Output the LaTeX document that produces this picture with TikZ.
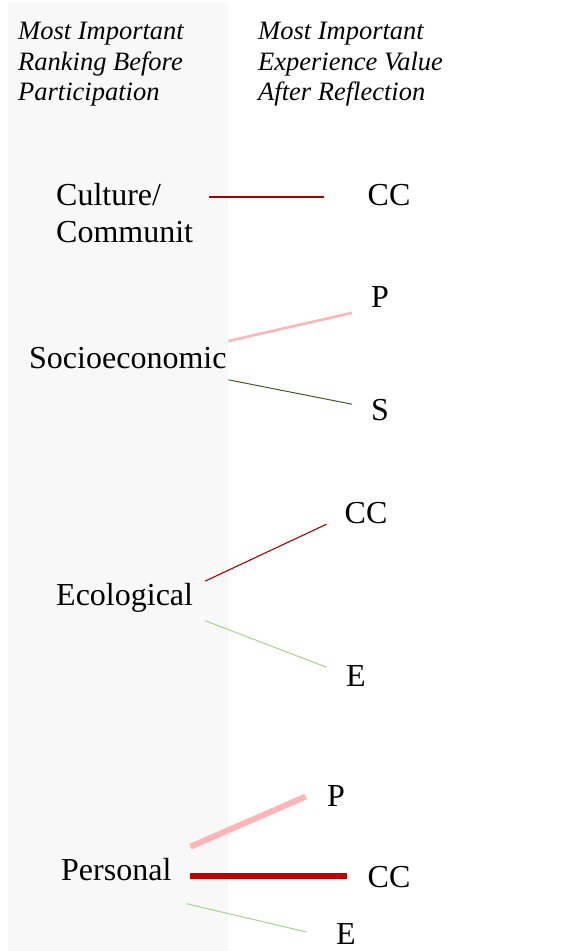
\documentclass[tikz,border=0pt]{standalone}
\usepackage{fontspec}
\setmainfont{Liberation Serif}
\begin{document}
\begin{tikzpicture}[x=1pt,y=-1pt,
  hdr/.style={font=\fontsize{26.5}{30.5}\selectfont\itshape, align=left, inner sep=0pt, anchor=north west},
  lbl/.style={font=\fontsize{32}{37}\selectfont, inner sep=0pt}
]
\definecolor{panelgray}{HTML}{F8F8F8}
\definecolor{pinkline}{HTML}{FFB5B5}
\definecolor{dkred}{HTML}{A80000}
\definecolor{brred}{HTML}{C00000}
\definecolor{dkgreen}{HTML}{3A5F25}
\definecolor{ltgreen}{HTML}{A5D38A}
\tikzset{
  lnDarkRed/.style={draw=dkred, line width=1.1pt},
  lnRed/.style={draw=brred, line width=5.8pt},
  lnPink/.style={draw=pinkline, line width=2.6pt},
  lnPinkThick/.style={draw=pinkline, line width=6pt},
  lnDkGreen/.style={draw=dkgreen, line width=1pt},
  lnLtGreen/.style={draw=ltgreen, line width=1pt}
}
\useasboundingbox (0,0) rectangle (576,951);
\fill[panelgray] (8,3) rectangle (227.5,951);

% headers
\node[hdr] (hleft) at (18,22.2) {Most Important\\Ranking Before\\Participation};
\node[hdr] (hright) at (258,22.2) {Most Important\\Experience Value\\After Reflection};

% left labels
\node[lbl, align=left, anchor=north west] (cul) at (56,182.7) {Culture/\\Communit};
\node[lbl, anchor=base west] (soc) at (29,368.6) {Socioeconomic};
\node[lbl, anchor=base west] (eco) at (56,605.6) {Ecological};
\node[lbl, anchor=base west] (per) at (61,880.6) {Personal};

% right labels
\node[lbl, anchor=base] (cc1) at (389,205) {CC};
\node[lbl, anchor=base] (p1) at (380,307.5) {P};
\node[lbl, anchor=base] (s1) at (380,420.7) {S};
\node[lbl, anchor=base] (cc2) at (366,523) {CC};
\node[lbl, anchor=base] (e1) at (356,686.5) {E};
\node[lbl, anchor=base] (p2) at (336,806.6) {P};
\node[lbl, anchor=base] (cc3) at (389,887.6) {CC};
\node[lbl, anchor=base] (e2) at (346,944) {E};

% connectors
\draw[lnDarkRed] ([shift={(16.1,14.3)}]cul.north east) -- ([shift={(-43.7,-8)}]cc1.base west);
\draw[lnPink] ([shift={(1.7,-27.6)}]soc.base east) -- ([shift={(-28,5.3)}]p1.base);
\draw[lnDkGreen] ([shift={(1.7,11.2)}]soc.base east) -- ([shift={(-28,-16.5)}]s1.base);
\draw[lnDarkRed] ([shift={(12.1,-24.6)}]eco.base east) -- ([shift={(-39.5,1.2)}]cc2.base);
\draw[lnLtGreen] ([shift={(12.1,15.2)}]eco.base east) -- ([shift={(-29.5,-19.3)}]e1.base);
\draw[lnPinkThick] ([shift={(18.8,-33.9)}]per.base east) -- ([shift={(-30.3,-10.1)}]p2.base);
\draw[lnRed] ([shift={(18.1,-4.6)}]per.base east) -- ([shift={(-41.7,-11.6)}]cc3.base);
\draw[lnLtGreen] ([shift={(14.8,23.1)}]per.base east) -- ([shift={(-39.3,-12)}]e2.base);
\end{tikzpicture}
\end{document}
